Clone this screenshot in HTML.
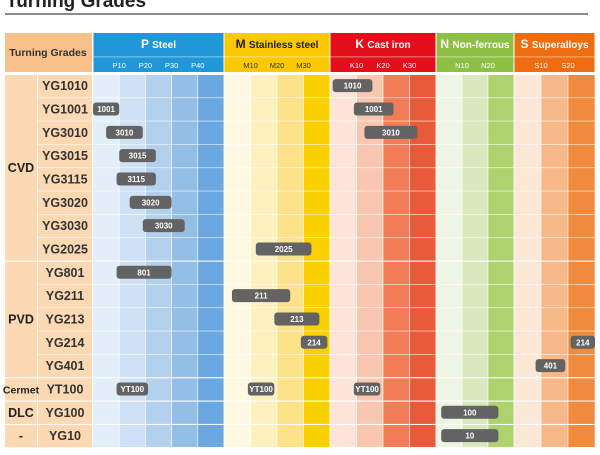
<!DOCTYPE html>
<html><head><meta charset="utf-8"><style>
body{margin:0;background:#fff;width:600px;height:450px;overflow:hidden}
svg text{font-family:"Liberation Sans Narrow","Liberation Sans",sans-serif}
</style></head><body>
<svg id="c" width="600" height="450" xmlns="http://www.w3.org/2000/svg">
<text x="6" y="7" font-size="19" font-weight="bold" fill="#222" style="font-family:'Liberation Sans',sans-serif">Turning Grades</text>
<rect x="5" y="13" width="583" height="2" fill="#8a8a8a"/>
</svg>
<script>
const materials=["P","M","K","N","S"];
const materialNames=["Steel","Stainless steel","Cast iron","Non-ferrous","Superalloys"];
const materialMax=[50,40,40,30,30];
const groups=["CVD","PVD","Cermet","DLC","-"];
const groupSizes=[8,5,1,1,1];
const grades=["YG1010","YG1001","YG3010","YG3015","YG3115","YG3020","YG3030","YG2025","YG801","YG211","YG213","YG214","YG401","YT100","YG100","YG10"];
// bars: [row, material index, start, end, label]
const barRows=[0,1,1,2,2,3,4,5,6,7,8,9,10,11,11,12,13,13,13,14,15];
const barMat=[2,0,2,0,2,0,0,0,0,1,0,1,1,1,4,4,0,1,2,3,3];
const barStart=[1,0,9,5,13,10,9,14,19,12,9,3,19,29,21,8,9,9,9,2,2];
const barEnd=[16,10,24,19,33,24,24,30,35,33,30,25,36,39,30,19,21,19,19,24,24];
const barLabels=["1010","1001","1001","3010","3010","3015","3115","3020","3030","2025","801","211","213","214","214","401","YT100","YT100","YT100","100","10"];

(function(){
const NS="http://www.w3.org/2000/svg";
const svg=document.getElementById('c');
const secX=[[93,224],[224,330],[330,436],[436,514],[514,595]];
const hdr=["#1f97d8","#fcc900","#e30f1b","#8dc043","#ef6d10"];
const strips=[["#e3eef9","#cfe1f4","#b3d1ee","#93bfe7","#6aa8df"],["#fff8e2","#fff0bf","#fde28a","#fbd000"],["#fde3d8","#f9c6b0","#f07d55","#e85a3a"],["#eef5e4","#d7e9bd","#aed36e"],["#fde8d8","#f8b98a","#f08a3c"]];
const topY=74,rh=23.33,bottomY=topY+rh*grades.length;
function mk(t,a,txt){const e=document.createElementNS(NS,t);for(const k in a)e.setAttribute(k,a[k]);if(txt!==undefined)e.textContent=txt;svg.appendChild(e);return e;}
function xScale(m,v){const a=secX[m][0],b=secX[m][1];return a+(b-a)*v/materialMax[m];}
let e=mk('rect',{x:5,y:33,width:87,height:39,fill:'#f8c08a'});


e=mk('text',{x:48,y:56,'font-size':10.5,'font-weight':'bold','text-anchor':'middle',fill:'#333',style:"font-family:'Liberation Sans',sans-serif"},'Turning Grades');


materials.forEach((m,i)=>{
  const a=secX[i][0],b=secX[i][1];
  let r=mk('rect',{x:a+0.5,y:33,width:b-a-1,height:39,fill:hdr[i]});
  
  
  mk('rect',{x:a+0.5,y:56.5,width:b-a-1,height:0.8,fill:'rgba(255,255,255,0.6)'});
  let t=mk('text',{x:(a+b)/2,y:48,'font-size':10,'font-weight':'bold','text-anchor':'middle',fill:i==1?'#222':'#fff'});
  const ts=document.createElementNS(NS,'tspan');ts.setAttribute('font-size','12');ts.textContent=m+' ';
  t.appendChild(ts);t.appendChild(document.createTextNode(materialNames[i]));
  
  
  const n=strips[i].length;
  for(let k=1;k<n;k++){
    let s=mk('text',{x:xScale(i,k*10),y:68,'font-size':7.5,'text-anchor':'middle',fill:i==1?'#333':'#fff'},m+(k*10));
    
    
  }
  const w=(b-a)/n;
  strips[i].forEach((c,k)=>{
    let s=mk('rect',{x:a+k*w,y:topY,width:w,height:bottomY-topY,fill:c,stroke:'#fff','stroke-width':0.6});
    
    
  });
});
e=mk('rect',{x:5,y:topY,width:87,height:bottomY-topY,fill:'#fcd8b3'});


mk('rect',{x:37,y:topY,width:1,height:bottomY-topY,fill:'#fff'});
grades.forEach((g,i)=>{
  const y=topY+rh*i;
  mk('rect',{x:38,y:y,width:557,height:0.8,fill:'rgba(255,255,255,0.7)'});
  let t=mk('text',{x:65,y:y+rh/2+4.5,'font-size':12.5,'font-weight':'bold','text-anchor':'middle',fill:'#333',style:"font-family:'Liberation Sans',sans-serif"},g);
  
  
});
let r0=0;
groups.forEach((g,i)=>{
  const y0=topY+rh*r0,h=rh*groupSizes[i];
  mk('rect',{x:5,y:y0,width:590,height:1,fill:'#fff'});
  let t=mk('text',{x:21,y:y0+h/2+4.5,'font-size':g=='Cermet'?10.5:12.5,'font-weight':'bold','text-anchor':'middle',fill:'#222',style:g=='Cermet'?'':"font-family:'Liberation Sans',sans-serif"},g);
  
  
  r0+=groupSizes[i];
});
barRows.forEach((row,i)=>{
  const m=barMat[i],x1=xScale(m,barStart[i]),x2=xScale(m,barEnd[i]);
  const yc=topY+rh*row+rh/2;
  let b=mk('rect',{x:x1,y:yc-6.5,width:x2-x1,height:13,rx:3,fill:'#636363'});
  
  
  let t=mk('text',{x:(x1+x2)/2,y:yc+3,'font-size':8,'font-weight':'bold','text-anchor':'middle',fill:'#fff'},barLabels[i]);
  
  
});
})();
</script>
</body></html>
